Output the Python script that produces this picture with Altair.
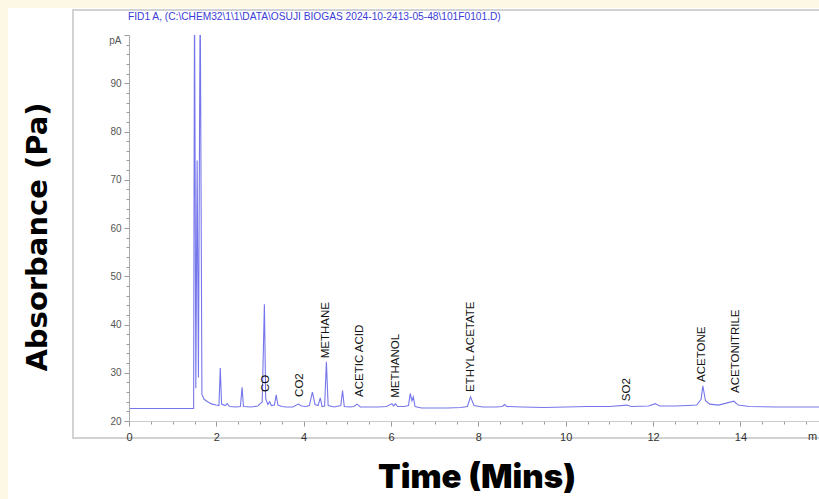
import altair as alt
import pandas as pd

# ---------------- data ----------------
time_min = [0.00, 1.48, 1.50, 1.53, 1.56, 1.59, 1.63, 1.67, 1.72, 1.80, 1.90, 2.00,
            2.06, 2.09, 2.12, 2.20, 2.25, 2.30, 2.45, 2.55, 2.59, 2.62, 2.80, 2.95,
            3.00, 3.05, 3.10, 3.13, 3.18, 3.22, 3.26, 3.33, 3.37, 3.41, 3.50, 3.60,
            3.75, 3.88, 3.95, 4.05, 4.13, 4.20, 4.26, 4.33, 4.38, 4.42, 4.48, 4.52,
            4.56, 4.70, 4.85, 4.89, 4.93, 5.05, 5.15, 5.22, 5.30, 5.50, 5.70, 5.90,
            6.02, 6.06, 6.10, 6.15, 6.30, 6.40, 6.44, 6.48, 6.51, 6.55, 6.70, 7.00,
            7.30, 7.60, 7.75, 7.82, 7.90, 8.10, 8.40, 8.55, 8.60, 8.65, 9.00, 9.50,
            10.00, 10.50, 11.00, 11.40, 11.50, 11.90, 12.05, 12.15, 12.50, 12.80, 13.00, 13.10,
            13.14, 13.20, 13.30, 13.50, 13.85, 13.95, 14.20, 14.80, 15.50, 15.80]
signal_pa = [22.6, 22.6, 110.0, 26.8, 74.0, 29.0, 110.0, 25.5, 24.5, 24.0, 23.5, 23.3,
             23.2, 31.0, 23.5, 23.2, 23.6, 23.0, 22.9, 23.0, 27.0, 23.0, 22.9, 23.1,
             23.6, 23.9, 44.2, 24.6, 23.4, 24.0, 23.2, 23.3, 25.4, 23.3, 23.0, 22.9,
             22.9, 23.5, 23.1, 23.0, 23.2, 26.0, 23.4, 23.2, 24.8, 23.0, 23.1, 32.3,
             23.2, 22.9, 23.2, 26.3, 23.0, 22.9, 23.0, 23.5, 22.9, 22.9, 22.9, 23.0,
             23.6, 23.1, 23.6, 23.0, 23.0, 23.2, 25.7, 24.2, 25.0, 23.0, 22.7, 22.7,
             22.7, 22.8, 23.0, 25.0, 23.2, 22.9, 22.9, 23.0, 23.4, 23.0, 22.9, 22.8,
             22.9, 23.0, 23.0, 23.3, 23.0, 23.1, 23.6, 23.1, 23.1, 23.2, 23.3, 24.5,
             27.3, 24.2, 23.5, 23.3, 24.1, 23.3, 23.0, 22.9, 22.9, 22.9]

peak_names = ["CO", "CO2", "METHANE", "ACETIC ACID", "METHANOL",
              "ETHYL ACETATE", "SO2", "ACETONE", "ACETONITRILE"]
peak_time = [3.14, 3.92, 4.52, 5.28, 6.12, 7.82, 11.40, 13.12, 13.90]
peak_label_level = [26.0, 25.0, 33.0, 25.0, 24.8, 26.0, 24.1, 28.1, 25.8]

x_tick_values = [i * 0.5 for i in range(32)]
y_tick_values = list(range(20, 101, 2))

title_text = r"FID1 A,  (C:\CHEM32\1\1\DATA\OSUJI BIOGAS 2024-10-2413-05-48\101F0101.D)"
y_title_text = "Absorbance  (Pa)"
x_title_text = "Time (Mins)"
x_unit_text = "m"
x_unit_pos = [15.55]

# ---------------- chart ----------------
W, H = 690, 386
one = pd.DataFrame({"a": [0]})
sig = pd.DataFrame({"t": time_min, "v": signal_pa})
peaks = pd.DataFrame({"t": peak_time, "v": peak_label_level, "name": peak_names})
unit = pd.DataFrame({"t": x_unit_pos, "name": [x_unit_text]})

x_scale = alt.Scale(domain=[0, 15.8], nice=False, zero=False)
y_scale = alt.Scale(domain=[20, 100], nice=False, zero=False)

x_axis = alt.Axis(
    values=x_tick_values, title=None, grid=False, zindex=2,
    labelExpr="datum.value % 2 == 0 ? format(datum.value, 'd') : ''",
    tickSize={"condition": {"test": "datum.value % 2 == 0", "value": 5}, "value": 3},
    tickColor="#999999", domainColor="#cccccc", labelColor="#333333",
    labelFont="Liberation Sans", labelFontSize=11, labelPadding=5,
    labelOverlap=False, labelFlush=False,
)
y_axis = alt.Axis(
    values=y_tick_values, title=None, grid=False, zindex=2,
    labelExpr="datum.value == 100 ? 'pA' : (datum.value % 10 == 0 ? format(datum.value, 'd') : '')",
    tickSize={"condition": {"test": "datum.value % 10 == 0", "value": 5}, "value": 3},
    labelBaseline={"condition": {"test": "datum.value == 100", "value": "top"}, "value": "middle"},
    tickColor="#999999", domainColor="#aaaaaa", labelColor="#555555",
    labelFont="Liberation Sans", labelFontSize=10, labelPadding=3,
    labelOverlap=False, labelFlush=False,
)

bg = alt.Chart(one).mark_rect(color="white").encode(
    x=alt.value(-121), x2=alt.value(W), y=alt.value(-27), y2=alt.value(H + 78))

frame = alt.Chart(one).mark_rect(fill=None, stroke="#c4c4c4", strokeWidth=1.5).encode(
    x=alt.value(-56), x2=alt.value(W + 20), y=alt.value(-25), y2=alt.value(403))

line = alt.Chart(sig).mark_line(color="#7676ec", strokeWidth=1.1, clip=True).encode(
    x=alt.X("t:Q", scale=x_scale, axis=x_axis),
    y=alt.Y("v:Q", scale=y_scale, axis=y_axis),
)

labels = alt.Chart(peaks).mark_text(
    angle=270, align="left", baseline="middle", font="Liberation Sans",
    fontSize=11.5, color="#111111").encode(
    x=alt.X("t:Q", scale=x_scale, axis=x_axis),
    y=alt.Y("v:Q", scale=y_scale, axis=y_axis),
    text="name:N")

unit_lbl = alt.Chart(unit).mark_text(
    align="left", baseline="middle", font="Liberation Sans", fontSize=11,
    color="#333333").encode(
    x=alt.X("t:Q", scale=x_scale, axis=x_axis), y=alt.value(H + 16), text="name:N")

title = alt.Chart(one).mark_text(
    text=title_text, align="left", baseline="middle", font="Liberation Sans",
    fontSize=10.2, color="#3b3bd6").encode(x=alt.value(-1), y=alt.value(-18))

y_title = alt.Chart(one).mark_text(
    text=y_title_text, angle=270, align="center", baseline="middle",
    font="DejaVu Sans", fontWeight="bold", fontSize=29, color="black").encode(
    x=alt.value(-91), y=alt.value(202))

x_title = alt.Chart(one).mark_text(
    text=x_title_text, align="center", baseline="middle",
    font="Inter", fontWeight=900, fontSize=33, color="black").encode(
    x=alt.value(348), y=alt.value(443))

chart = alt.layer(bg, frame, line, labels, unit_lbl, title, y_title, x_title).properties(
    width=W, height=H,
    autosize="none",
    padding={"left": 129, "top": 35, "right": 0, "bottom": 78},
    background="#fdf8e6",
).configure_view(stroke=None)

chart.save("out.html", embed_options={"renderer": "svg", "actions": False})
